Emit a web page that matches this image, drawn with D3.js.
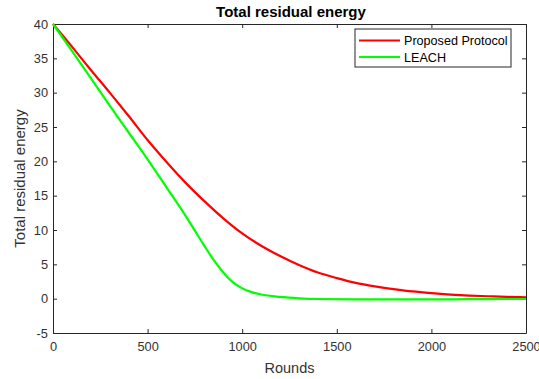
<!DOCTYPE html>
<html lang="en">
<head>
	<meta charset="UTF-8">
	<title>Total residual energy</title>
	<script src="https://d3js.org/d3.v7.min.js"></script>
	<style>
		body { margin: 0; background: #fff; }
		svg text { font-family: "Liberation Sans", Arial, sans-serif; fill: #333; }
		.tick text { font-size: 12.8px; }
		.axis path, .axis line { stroke: #262626; }
	</style>
</head>
<body>
<svg id="chart"></svg>
<script>
	var proposedRounds = [0, 100, 200, 300, 400, 500, 600, 700, 800, 900, 1000, 1100, 1200, 1300, 1400, 1500,
		1600, 1700, 1800, 1900, 2000, 2100, 2200, 2300, 2400, 2500];
	var proposed = [40, 36.7, 33.3, 30.0, 26.6, 23.1, 19.9, 16.9, 14.2, 11.7, 9.5, 7.7, 6.2, 4.9, 3.8, 3.0,
		2.3, 1.8, 1.4, 1.05, 0.8, 0.6, 0.45, 0.35, 0.25, 0.2];
	var leachRounds = [0, 100, 200, 300, 400, 500, 600, 700, 750, 800, 850, 900, 950, 1000, 1050, 1100,
		1200, 1300, 1400, 1600, 1800, 2000, 2200, 2400, 2500];
	var leach = [40, 36.1, 32.1, 28.1, 24.2, 20.3, 16.2, 12.1, 9.9, 7.7, 5.6, 3.8, 2.4, 1.5, 0.95, 0.6,
		0.25, 0.05, -0.05, -0.1, -0.1, -0.1, -0.08, -0.05, -0.05];
	var xTicks = [0, 500, 1000, 1500, 2000, 2500];
	var yTicks = [-5, 0, 5, 10, 15, 20, 25, 30, 35, 40];
	var seriesNames = ["Proposed Protocol", "LEACH"];
	var seriesColors = ["#ff0000", "#00ff00"];

	var width = 539, height = 379;
	var margin = { top: 24, right: 13, bottom: 46, left: 53 };
	var w = width - margin.left - margin.right,
	    h = height - margin.top - margin.bottom;

	var svg = d3.select("#chart").attr("width", width).attr("height", height);
	var g = svg.append("g").attr("transform", "translate(" + margin.left + "," + margin.top + ")");

	var x = d3.scaleLinear().domain([0, 2500]).range([0, w]);
	var y = d3.scaleLinear().domain([-5, 40]).range([h, 0]);

	var fmt = function(d) { return String(d); };

	// axes, matlab style: ticks inside, box all round
	g.append("g").attr("class", "axis")
	    .attr("transform", "translate(0," + h + ")")
	    .call(d3.axisBottom(x).tickValues(xTicks).tickFormat(fmt).tickSizeInner(-4).tickSizeOuter(0).tickPadding(9));
	g.append("g").attr("class", "axis")
	    .call(d3.axisLeft(y).tickValues(yTicks).tickFormat(fmt).tickSizeInner(-4).tickSizeOuter(0).tickPadding(5));
	g.append("g").attr("class", "axis")
	    .call(d3.axisTop(x).tickValues(xTicks).tickSizeInner(-4).tickSizeOuter(0).tickFormat(""));
	g.append("g").attr("class", "axis")
	    .attr("transform", "translate(" + w + ",0)")
	    .call(d3.axisRight(y).tickValues(yTicks).tickSizeInner(-4).tickSizeOuter(0).tickFormat(""));

	var line = d3.line()
	    .x(function(d) { return x(d[0]); })
	    .y(function(d) { return y(d[1]); })
	    .curve(d3.curveMonotoneX);

	[[proposedRounds, proposed], [leachRounds, leach]].forEach(function(s, i) {
		g.append("path")
		    .datum(s[0].map(function(r, k) { return [r, s[1][k]]; }))
		    .attr("fill", "none")
		    .attr("stroke", seriesColors[i])
		    .attr("stroke-width", 2.2)
		    .attr("d", line);
	});

	// title + labels
	svg.append("text")
	    .attr("x", 291).attr("y", 17)
	    .attr("text-anchor", "middle")
	    .style("font-size", "15px").style("font-weight", "bold").style("fill", "#000")
	    .text("Total residual energy");
	svg.append("text")
	    .attr("x", margin.left + w / 2).attr("y", 373)
	    .attr("text-anchor", "middle")
	    .style("font-size", "14.5px")
	    .text("Rounds");
	svg.append("text")
	    .attr("transform", "translate(25," + (margin.top + h / 2) + ") rotate(-90)")
	    .attr("text-anchor", "middle")
	    .style("font-size", "15px")
	    .text("Total residual energy");

	// legend
	var lg = svg.append("g").attr("transform", "translate(355,29)");
	lg.append("rect").attr("width", 156).attr("height", 38)
	    .attr("fill", "#fff").attr("stroke", "#262626").attr("stroke-width", 1);
	seriesNames.forEach(function(name, i) {
		var yy = 11.5 + i * 16.5;
		lg.append("line").attr("x1", 4).attr("x2", 45).attr("y1", yy).attr("y2", yy)
		    .attr("stroke", seriesColors[i]).attr("stroke-width", 2.2);
		lg.append("text").attr("x", 49).attr("y", yy + 4.5)
		    .style("font-size", "12.6px").style("fill", "#000")
		    .text(name);
	});
</script>
</body>
</html>
